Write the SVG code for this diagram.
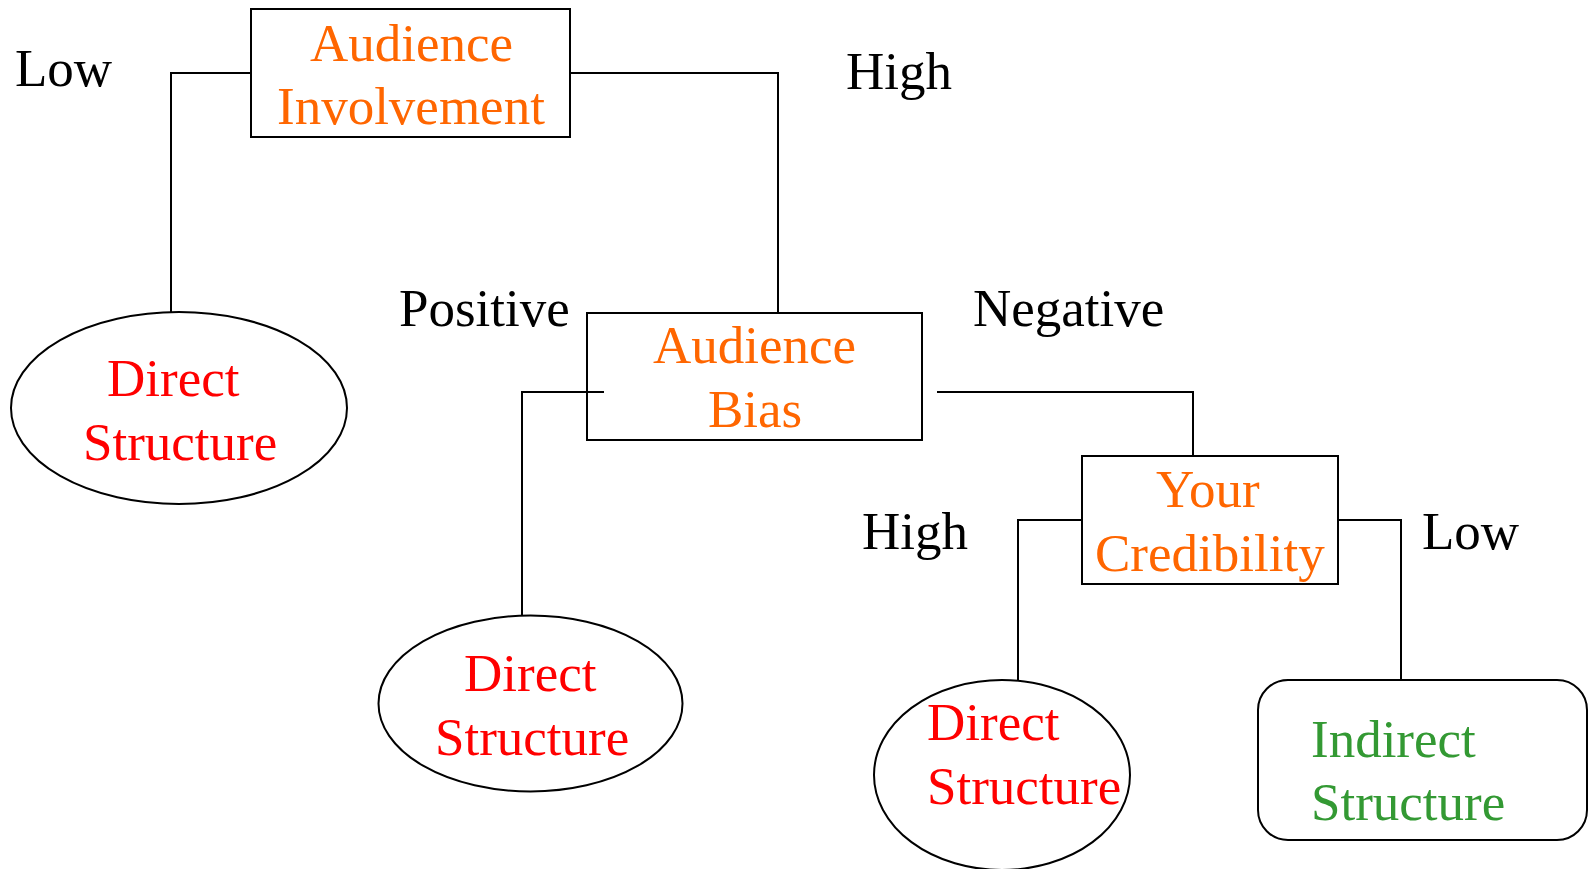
<svg xmlns="http://www.w3.org/2000/svg" width="1588" height="869" viewBox="0 0 1588 869">
<style>
text{font-family:"Liberation Serif","Times New Roman",serif;font-size:53px}
.lbl{fill:#000}
.dec{fill:#FF6600}
.dir{fill:#FF0000}
.ind{fill:#339933}
.shape{fill:#fff;stroke:#000;stroke-width:2}
.conn path{fill:none;stroke:#000;stroke-width:2}
</style>
<rect width="1588" height="869" fill="#fff"/>
<g class="conn">
<path d="M251,73 H171 V312"/>
<path d="M570,73 H778 V313"/>
<path d="M604,392 H522 V616"/>
<path d="M937,392 H1193 V456"/>
<path d="M1082,520 H1018 V681"/>
<path d="M1338,520 H1401 V680"/>
</g>
<g id="audience-involvement">
<rect class="shape" x="251" y="9" width="319" height="128"/>
<text class="dec" x="310" y="61">Audience</text>
<text class="dec" x="277" y="124">Involvement</text>
</g>
<g id="direct-1">
<ellipse class="shape" cx="179" cy="408" rx="168" ry="96"/>
<text class="dir" x="107" y="396">Direct</text>
<text class="dir" x="83" y="460">Structure</text>
</g>
<g id="audience-bias">
<rect class="shape" x="587" y="313" width="335" height="127"/>
<path d="M587,392 H604" stroke="#000" stroke-width="2"/>
<text class="dec" x="653" y="363">Audience</text>
<text class="dec" x="708" y="427">Bias</text>
</g>
<g id="direct-2">
<ellipse class="shape" cx="530.5" cy="703.5" rx="152" ry="88"/>
<text class="dir" x="464" y="691">Direct</text>
<text class="dir" x="435" y="755">Structure</text>
</g>
<g id="your-credibility">
<rect class="shape" x="1082" y="456" width="256" height="128"/>
<text class="dec" x="1156" y="507">Your</text>
<text class="dec" x="1095" y="571">Credibility</text>
</g>
<g id="direct-3">
<ellipse class="shape" cx="1002" cy="775" rx="128" ry="95"/>
<text class="dir" x="927" y="740">Direct</text>
<text class="dir" x="927" y="804">Structure</text>
</g>
<g id="indirect">
<rect class="shape" x="1258" y="680" width="329" height="160" rx="30" ry="30"/>
<text class="ind" x="1311" y="757">Indirect</text>
<text class="ind" x="1311" y="820">Structure</text>
</g>
<g id="labels">
<text class="lbl" x="15" y="86">Low</text>
<text class="lbl" x="846" y="89">High</text>
<text class="lbl" x="399" y="326">Positive</text>
<text class="lbl" x="973" y="326">Negative</text>
<text class="lbl" x="862" y="549">High</text>
<text class="lbl" x="1422" y="549">Low</text>
</g>
</svg>
